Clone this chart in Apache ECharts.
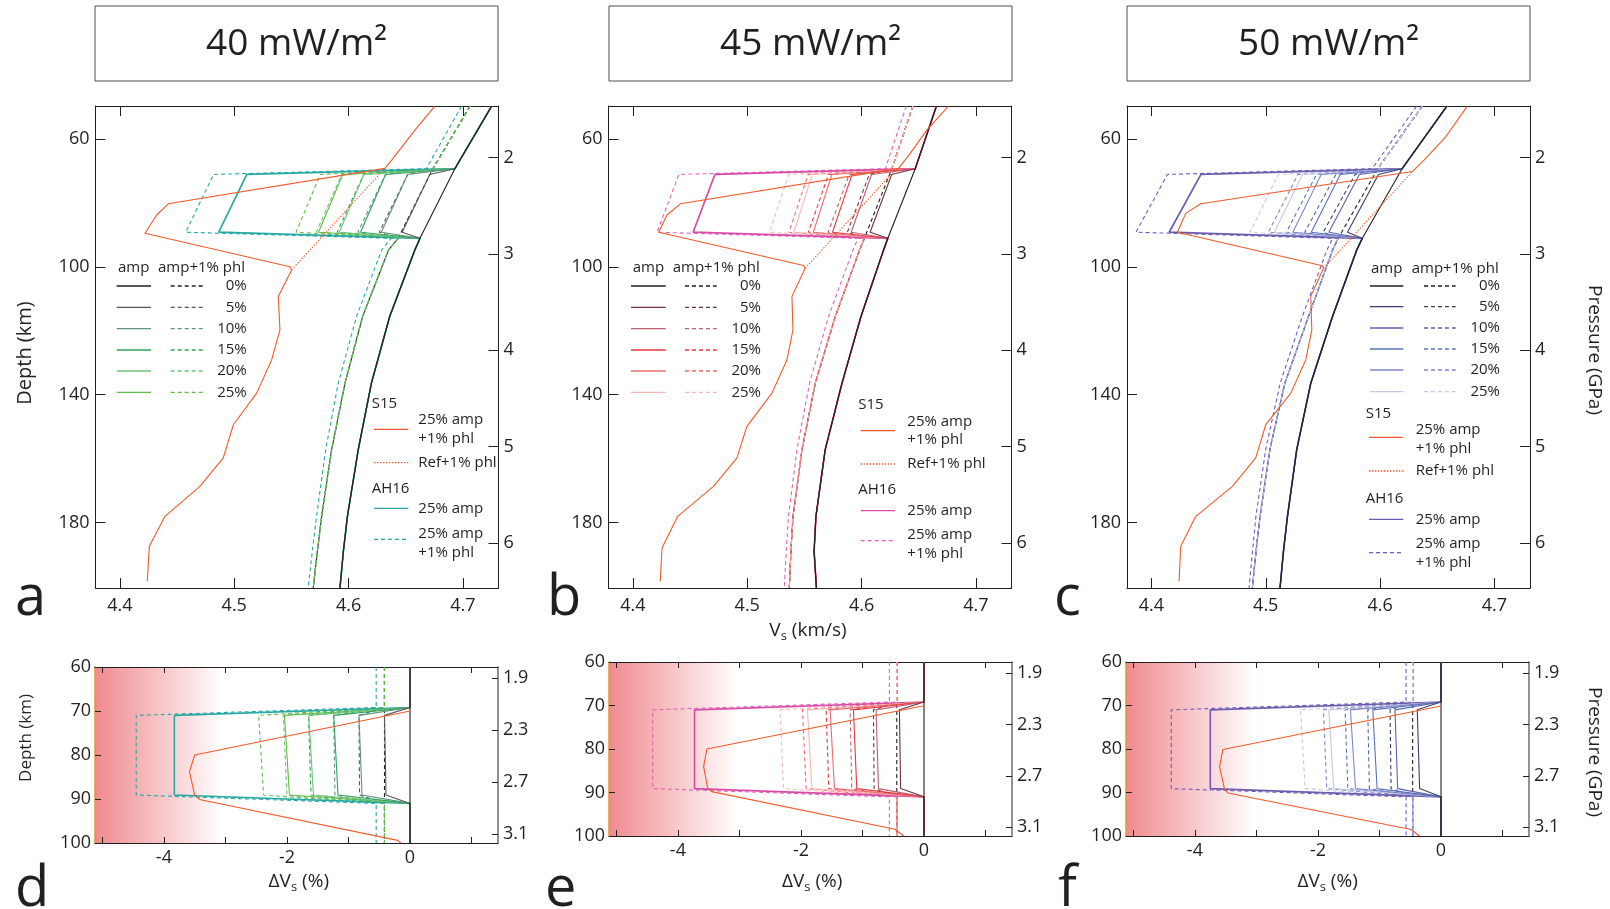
<!DOCTYPE html>
<html><head><meta charset="utf-8">
<script src="https://cdn.jsdelivr.net/npm/echarts@6/dist/echarts.min.js"></script>
<style>html,body{margin:0;padding:0;background:#fff}#c{width:1610px;height:909px}</style>
</head><body><div id="c"></div>
<script>
const FONT = '"Open Sans", "Noto Sans", sans-serif';
const INK = '#231f20';

// ---------- axes: ranges and tick labels ----------
const vsRange = [4.3786, 4.7312];
const vsTicks = [4.4, 4.5, 4.6, 4.7];
const depthRangeTop = [49.56, 200.55];
const depthTicksTop = [60, 100, 140, 180];
const pressRangeTop = [1.4637, 6.467];
const pressTicksTop = [2, 3, 4, 5, 6];
const dvsRange = [-5.12, 1.43];
const dvsTicks = [-5, -4, -3, -2, -1, 0, 1];
const dvsLabels = [-4, -2, 0];
const depthRangeBot = [60, 100];
const depthTicksBot = [60, 70, 80, 90, 100];
const pressRangeBot = [1.813, 3.169];
const pressTicksBot = [1.9, 2.3, 2.7, 3.1];

const titles = ['40 mW/m\u00b2', '45 mW/m\u00b2', '50 mW/m\u00b2'];
const panelLetters = ['a', 'b', 'c', 'd', 'e', 'f'];
const ampLabels = ['0%', '5%', '10%', '15%', '20%', '25%'];

// depths: base-curve sample depths, and layer [join top, layer top, layer bottom, join bottom]
const depthBase = [49.6, 69.2, 91, 94.65, 115.5, 136.4, 157.2, 178.1, 189, 200.5];
const layerDepths = [69.2, 71.0, 89.1, 91.0];

// ---------- panel a (40 mW/m2), Vs km/s ----------
const aBase = [4.7252, 4.6930, 4.6625, 4.6580, 4.6360, 4.6200, 4.6085, 4.5990, 4.5955, 4.5925];
const aBasePhl = [4.7063, 4.6738, 4.6434, 4.6350, 4.6123, 4.5969, 4.5852, 4.5765, 4.5727, 4.5691];
const aAH16Phl = [4.6989, 4.6680, 4.6373, 4.6290, 4.6070, 4.5910, 4.5800, 4.5720, 4.5683, 4.5647];
const aAmpTop = [4.6711, 4.6517, 4.6324, 4.6134, 4.5949];       // 5..25 %
const aAmpBot = [4.6469, 4.6287, 4.6105, 4.5919, 4.5737];
const aAmpPhlTop = [4.6517, 4.6324, 4.6132, 4.5940, 4.5752];
const aAmpPhlBot = [4.6269, 4.6082, 4.5900, 4.5718, 4.5541];
const aAH16Amp = [4.5110, 4.4864];
const aAH16AmpPhl = [4.4819, 4.4575];
const aS15Depth = [49.6, 57.1, 66.5, 69.1, 80.2, 83.7, 89.4, 99.9, 100.9, 109.2, 119.7, 129.1, 139.5, 149.4, 159.8, 168.7, 178.1, 187.5, 198.4];
const aS15Vs = [4.6756, 4.6581, 4.6377, 4.6318, 4.4423, 4.4321, 4.4219, 4.5487, 4.5502, 4.5385, 4.5400, 4.5327, 4.5196, 4.4992, 4.4904, 4.4700, 4.4394, 4.4257, 4.4239];
const aRefDepth = [100.9, 69.1];
const aRefVs = [4.5502, 4.6318];

// ---------- panel b (45 mW/m2) ----------
const bBase = [4.6655, 4.6470, 4.6230, 4.6193, 4.5995, 4.5829, 4.5682, 4.5601, 4.5585, 4.5605];
const bBasePhl = [4.6449, 4.6265, 4.6025, 4.5983, 4.5770, 4.5595, 4.5479, 4.5400, 4.5382, 4.5368];
const bAH16Phl = [4.6391, 4.6208, 4.5970, 4.5925, 4.5711, 4.5545, 4.5435, 4.5361, 4.5341, 4.5324];
const bAmpTop = [4.6264, 4.6088, 4.5917, 4.5741, 4.5570];
const bAmpBot = [4.6075, 4.5909, 4.5746, 4.5578, 4.5407];
const bAmpPhlTop = [4.6068, 4.5892, 4.5711, 4.5533, 4.5363];
const bAmpPhlBot = [4.5876, 4.5708, 4.5535, 4.5365, 4.5195];
const bAH16Amp = [4.4717, 4.4526];
const bAH16AmpPhl = [4.4402, 4.4211];
const bS15Depth = [49.6, 57.1, 64.4, 69.1, 80.2, 83.7, 89.1, 99.5, 100.4, 109.2, 119.7, 129.1, 139.5, 149.9, 159.8, 168.7, 178.1, 188.0, 198.4];
const bS15Vs = [4.6761, 4.6571, 4.6426, 4.6324, 4.4415, 4.4298, 4.4225, 4.5493, 4.5507, 4.5391, 4.5400, 4.5347, 4.5216, 4.4997, 4.4910, 4.4705, 4.4391, 4.4254, 4.4239];
const bRefDepth = [100.4, 71.2, 69.1];
const bRefVs = [4.5507, 4.6251, 4.6324];

// ---------- panel c (50 mW/m2) ----------
const cBase = [4.6585, 4.6193, 4.5845, 4.5796, 4.5584, 4.5394, 4.5271, 4.5190, 4.5155, 4.5125];
const cBasePhl = [4.6370, 4.5980, 4.5634, 4.5585, 4.5374, 4.5167, 4.5036, 4.4950, 4.4915, 4.4883];
const cAH16Phl = [4.6320, 4.5931, 4.5585, 4.5536, 4.5320, 4.5126, 4.4999, 4.4914, 4.4884, 4.4854];
const cAmpTop = [4.5986, 4.5819, 4.5652, 4.5485, 4.5322];
const cAmpBot = [4.5715, 4.5552, 4.5398, 4.5237, 4.5075];
const cAmpPhlTop = [4.5782, 4.5614, 4.5444, 4.5282, 4.5110];
const cAmpPhlBot = [4.5503, 4.5341, 4.5180, 4.5023, 4.4862];
const cAH16Amp = [4.4433, 4.4155];
const cAH16AmpPhl = [4.4140, 4.3864];
const cS15Depth = [49.6, 59.2, 66.5, 70.1, 80.2, 83.2, 89.1, 99.6, 100.4, 109.2, 119.7, 129.1, 139.5, 149.4, 159.8, 168.7, 178.1, 187.5, 198.4];
const cS15Vs = [4.6764, 4.6575, 4.6385, 4.6283, 4.4431, 4.4300, 4.4227, 4.5496, 4.5505, 4.5394, 4.5403, 4.5350, 4.5219, 4.5000, 4.4912, 4.4708, 4.4388, 4.4256, 4.4242];
const cRefDepth = [100.4, 70.1];
const cRefVs = [4.5505, 4.6283];

// ---------- panels d, e, f : dVs (%) ----------
const dAmpTop = [-0.415, -0.83, -1.24, -1.645, -2.04];
const dAmpBot = [-0.39, -0.78, -1.17, -1.57, -1.96];
const dAmpPhlTop = [-0.83, -1.24, -1.65, -2.06, -2.46];
const dAmpPhlBot = [-0.82, -1.22, -1.61, -2.00, -2.38];
const dPhlBase = -0.415, dAH16PhlBase = -0.55;
const dAH16Amp = [-3.83, -3.83];
const dAH16AmpPhl = [-4.45, -4.45];
const dS15Depth = [70.0, 80.0, 83.8, 89.1, 90.1, 99.4, 100];
const dS15dVs = [0, -3.50, -3.585, -3.50, -3.42, -0.20, -0.15];

const eAmpTop = [-0.40, -0.779, -1.147, -1.526, -1.894];
const eAmpBot = [-0.38, -0.74, -1.093, -1.456, -1.824];
const eAmpPhlTop = [-0.822, -1.201, -1.591, -1.975, -2.34];
const eAmpPhlBot = [-0.811, -1.174, -1.548, -1.916, -2.284];
const ePhlBase = -0.443, eAH16PhlBase = -0.563;
const eAH16Amp = [-3.73, -3.73];
const eAH16AmpPhl = [-4.41, -4.41];
const eS15Depth = [70.05, 80.0, 84.0, 89.0, 89.8, 98.45, 100];
const eS15dVs = [0, -3.528, -3.582, -3.517, -3.45, -0.471, -0.33];

const fAmpTop = [-0.386, -0.748, -1.109, -1.472, -1.824];
const fAmpBot = [-0.348, -0.705, -1.039, -1.391, -1.743];
const fAmpPhlTop = [-0.828, -1.191, -1.559, -1.911, -2.284];
const fAmpPhlBot = [-0.812, -1.164, -1.515, -1.857, -2.208];
const fPhlBase = -0.461, fAH16PhlBase = -0.568;
const fAH16Amp = [-3.75, -3.75];
const fAH16AmpPhl = [-4.384, -4.384];
const fS15Depth = [70.1, 80.1, 84.1, 89.3, 90.1, 98.5, 100];
const fS15dVs = [0, -3.545, -3.599, -3.518, -3.464, -0.486, -0.35];

// ---------- colours ----------
const colA = ['#231f20', '#4f5a54', '#5f937a', '#2ea35e', '#72c27a', '#5fbd45'];
const colB = ['#231f20', '#6c3341', '#b8616f', '#e8373f', '#ef6b6e', '#f5b8b5'];
const colC = ['#231f20', '#3a3e6c', '#5a62a8', '#5872bd', '#7f87c9', '#c4c7e5'];
const hlCol = [['#26a9a4', '#26a9a4'], ['#d94aa8', '#e462b8'], ['#6a5cae', '#7459bd']];
const ORANGE = '#f15a2b';
const DASH = [4, 3], DOT = [1.4, 1.6];

// ---------- builders ----------
function layered(base, t, b) {
  const pts = depthBase.map((d, i) => [base[i], d]);
  return pts.filter(p => p[1] <= layerDepths[0])
    .concat([[t, layerDepths[1]], [b, layerDepths[2]]], pts.filter(p => p[1] >= layerDepths[3]));
}
function layeredConst(c, t, b) {
  return [[c, depthRangeBot[0]], [c, layerDepths[0]], [t, layerDepths[1]], [b, layerDepths[2]], [c, layerDepths[3]], [c, depthRangeBot[1]]];
}
function pairs(xs, ys) { return xs.map((x, i) => [x, ys[i]]); }
function ln(gi, data, color, dash, w) {
  return { type: 'line', xAxisIndex: 2 * gi, yAxisIndex: 2 * gi, data, symbol: 'none', silent: true,
    animation: false, clip: true, lineStyle: { color, width: w || 1.1, type: dash || 'solid' } };
}

const series = [];
function topPanel(gi, base, basePhl, ahPhl, aT, aB, pT, pB, hA, hAP, s15d, s15v, refd, refv, cols, hl) {
  series.push(ln(gi, pairs(basePhl, depthBase), cols[0], DASH));
  for (let i = 0; i < 5; i++) series.push(ln(gi, layered(basePhl, pT[i], pB[i]), cols[i + 1], DASH));
  series.push(ln(gi, layered(ahPhl, hAP[0], hAP[1]), hl[1], DASH));
  series.push(ln(gi, layered(base, hA[0], hA[1]), hl[0], null, 1.7));
  for (let i = 4; i >= 0; i--) series.push(ln(gi, layered(base, aT[i], aB[i]), cols[i + 1]));
  series.push(ln(gi, pairs(base, depthBase), cols[0]));
  series.push(ln(gi, pairs(refv, refd), ORANGE, DOT));
  series.push(ln(gi, pairs(s15v, s15d), ORANGE));
}
function botPanel(gi, aT, aB, pT, pB, phlBase, ahPhlBase, hA, hAP, s15d, s15v, cols, hl) {
  series.push(ln(gi, pairs([phlBase, phlBase], depthRangeBot), cols[0], DASH));
  for (let i = 0; i < 5; i++) series.push(ln(gi, layeredConst(phlBase, pT[i], pB[i]), cols[i + 1], DASH));
  series.push(ln(gi, layeredConst(ahPhlBase, hAP[0], hAP[1]), hl[1], DASH));
  series.push(ln(gi, layeredConst(0, hA[0], hA[1]), hl[0], null, 1.6));
  for (let i = 4; i >= 0; i--) series.push(ln(gi, layeredConst(0, aT[i], aB[i]), cols[i + 1]));
  series.push(ln(gi, pairs([0, 0], depthRangeBot), cols[0]));
  series.push(ln(gi, pairs(s15v, s15d), ORANGE));
}
topPanel(0, aBase, aBasePhl, aAH16Phl, aAmpTop, aAmpBot, aAmpPhlTop, aAmpPhlBot, aAH16Amp, aAH16AmpPhl, aS15Depth, aS15Vs, aRefDepth, aRefVs, colA, hlCol[0]);
topPanel(1, bBase, bBasePhl, bAH16Phl, bAmpTop, bAmpBot, bAmpPhlTop, bAmpPhlBot, bAH16Amp, bAH16AmpPhl, bS15Depth, bS15Vs, bRefDepth, bRefVs, colB, hlCol[1]);
topPanel(2, cBase, cBasePhl, cAH16Phl, cAmpTop, cAmpBot, cAmpPhlTop, cAmpPhlBot, cAH16Amp, cAH16AmpPhl, cS15Depth, cS15Vs, cRefDepth, cRefVs, colC, hlCol[2]);
botPanel(3, dAmpTop, dAmpBot, dAmpPhlTop, dAmpPhlBot, dPhlBase, dAH16PhlBase, dAH16Amp, dAH16AmpPhl, dS15Depth, dS15dVs, colA, hlCol[0]);
botPanel(4, eAmpTop, eAmpBot, eAmpPhlTop, eAmpPhlBot, ePhlBase, eAH16PhlBase, eAH16Amp, eAH16AmpPhl, eS15Depth, eS15dVs, colB, hlCol[1]);
botPanel(5, fAmpTop, fAmpBot, fAmpPhlTop, fAmpPhlBot, fPhlBase, fAH16PhlBase, fAH16Amp, fAH16AmpPhl, fS15Depth, fS15dVs, colC, hlCol[2]);

// ---------- layout ----------
const topLefts = [95.5, 608.5, 1127];
const botLefts = [95, 609, 1126];
const grids = [];
topLefts.forEach(l => grids.push({ left: l, top: 106, width: 403, height: 482 }));
grids.push({ left: botLefts[0], top: 667, width: 403, height: 176 });
grids.push({ left: botLefts[1], top: 662, width: 403, height: 174 });
grids.push({ left: botLefts[2], top: 662, width: 403, height: 174 });
const fade = { type: 'linear', x: 0, y: 0, x2: 1, y2: 0,
  colorStops: [{ offset: 0, color: '#f08a8f' }, { offset: 0.32, color: '#ffffff' }] };
grids.forEach((g, i) => { g.show = i >= 3; g.backgroundColor = i >= 3 ? fade : 'transparent'; g.borderWidth = 0; });

const lblStyle = { fontSize: 18, color: INK, fontFamily: FONT };
const xAxes = [], yAxes = [];
function addAxes(gi, isTop) {
  const tl = isTop ? 10 : 6;
  const xr = isTop ? vsRange : dvsRange;
  const xt = isTop ? vsTicks : dvsTicks;
  const xl = isTop ? vsTicks : dvsLabels;
  const xf = isTop ? (v => v.toFixed(1)) : (v => String(Math.round(v)));
  const line = { show: true, onZero: false, lineStyle: { color: INK, width: 1 } };
  xAxes.push({ gridIndex: gi, type: 'value', position: 'bottom', min: xr[0], max: xr[1], axisLine: line,
    axisTick: { show: true, inside: true, length: tl, customValues: xt, lineStyle: { color: INK } },
    axisLabel: Object.assign({ show: true, customValues: xl, margin: isTop ? 9 : 6, formatter: xf }, lblStyle),
    splitLine: { show: false } });
  xAxes.push({ gridIndex: gi, type: 'value', position: 'top', min: xr[0], max: xr[1], axisLine: line,
    axisTick: { show: true, inside: true, length: tl, customValues: xt, lineStyle: { color: INK } },
    axisLabel: { show: false }, splitLine: { show: false } });
  const yr = isTop ? depthRangeTop : depthRangeBot;
  const yt = isTop ? depthTicksTop : depthTicksBot;
  const pr = isTop ? pressRangeTop : pressRangeBot;
  const pt = isTop ? pressTicksTop : pressTicksBot;
  yAxes.push({ gridIndex: gi, type: 'value', position: 'left', inverse: true, min: yr[0], max: yr[1],
    axisLine: isTop ? line : { show: true, onZero: false, lineStyle: { color: '#e8952f', width: 1.5 } },
    axisTick: { show: true, inside: true, length: tl, customValues: yt, lineStyle: { color: INK } },
    axisLabel: Object.assign({ show: true, customValues: yt, margin: isTop ? 6 : 4 }, lblStyle),
    splitLine: { show: false } });
  yAxes.push({ gridIndex: gi, type: 'value', position: 'right', inverse: true, min: pr[0], max: pr[1],
    axisLine: isTop ? line : { show: true, onZero: false, lineStyle: { color: '#6d6e71', width: 1.5 } },
    axisTick: { show: true, inside: true, length: tl, customValues: pt, lineStyle: { color: INK } },
    axisLabel: Object.assign({ show: true, customValues: pt, margin: 5,
      formatter: isTop ? (v => String(v)) : (v => v.toFixed(1)) }, lblStyle),
    splitLine: { show: false } });
}
for (let i = 0; i < 6; i++) addAxes(i, i < 3);

// ---------- graphic text / legends ----------
function txt(x, y, text, size, align, extra) {
  return Object.assign({ type: 'text', x, y, silent: true, z: 50,
    style: { text, font: size + 'px ' + FONT, fill: INK, align: align || 'left', textAlign: align || 'left',
      verticalAlign: 'middle', textVerticalAlign: 'middle' } }, extra || {});
}
function seg(x1, y1, x2, y2, color, dash) {
  return { type: 'line', silent: true, z: 50, shape: { x1, y1, x2, y2 },
    style: { stroke: color, lineWidth: 1.3, lineDash: dash || null } };
}
const G = [];
// title boxes
const titleLefts = [95, 609, 1127];
titleLefts.forEach((l, i) => {
  G.push({ type: 'rect', silent: true, shape: { x: l, y: 6, width: 403, height: 75 },
    style: { fill: '#fff', stroke: '#4d4d4d', lineWidth: 1 } });
  G.push(txt(l + 201.5, 44, titles[i], 37, 'center'));
});
// family legends
const famLay = [
  { ampX: 118, phlX: 158, hdrY: 268, rows: [286, 307.3, 328.7, 350, 371, 392.3], solid: [116.7, 151], dash: [170.7, 203.3], pctR: 246.7 },
  { ampX: 632.7, phlX: 672.7, hdrY: 268, rows: [286, 307.3, 328.7, 350, 371, 392.3], solid: [631, 665.7], dash: [685, 716.7], pctR: 761 },
  { ampX: 1371, phlX: 1411.7, hdrY: 268.3, rows: [286, 306.7, 328, 349, 370, 391.7], solid: [1370, 1403.3], dash: [1424, 1455.7], pctR: 1500 }
];
const refLay = [
  { hx: 371.7, s15Y: 403.3, sx: [374, 408.3], tx: 418.3, oY: 429.3, oT1: 420, oT2: 438.3, dY: 462.7, ahY: 488.3, hY: 508.3, hdY: 539.3, hdT1: 533.3, hdT2: 552.3 },
  { hx: 858.3, s15Y: 405, sx: [860.7, 895], tx: 907.3, oY: 430.7, oT1: 421.7, oT2: 440, dY: 464, ahY: 490, hY: 510.7, hdY: 540.7, hdT1: 534.3, hdT2: 553.3 },
  { hx: 1365.7, s15Y: 413.3, sx: [1369, 1403.3], tx: 1415.7, oY: 437.3, oT1: 429.3, oT2: 448.3, dY: 471, ahY: 498.3, hY: 519.3, hdY: 552.7, hdT1: 543.3, hdT2: 562.3 }
];
const famCols = [colA, colB, colC];
for (let p = 0; p < 3; p++) {
  const L = famLay[p], R = refLay[p], cols = famCols[p];
  G.push(txt(L.ampX, L.hdrY, 'amp', 15));
  G.push(txt(L.phlX, L.hdrY, 'amp+1% phl', 15));
  ampLabels.forEach((lab, i) => {
    G.push(seg(L.solid[0], L.rows[i], L.solid[1], L.rows[i], cols[i]));
    G.push(seg(L.dash[0], L.rows[i], L.dash[1], L.rows[i], cols[i], DASH));
    G.push(txt(L.pctR, L.rows[i], lab, 15, 'right'));
  });
  G.push(txt(R.hx, R.s15Y, 'S15', 15));
  G.push(seg(R.sx[0], R.oY, R.sx[1], R.oY, ORANGE));
  G.push(txt(R.tx, R.oT1, '25% amp', 15));
  G.push(txt(R.tx, R.oT2, '+1% phl', 15));
  G.push(seg(R.sx[0], R.dY, R.sx[1], R.dY, ORANGE, DOT));
  G.push(txt(R.tx, R.dY, 'Ref+1% phl', 15));
  G.push(txt(R.hx, R.ahY, 'AH16', 15));
  G.push(seg(R.sx[0], R.hY, R.sx[1], R.hY, hlCol[p][0]));
  G.push(txt(R.tx, R.hY, '25% amp', 15));
  G.push(seg(R.sx[0], R.hdY, R.sx[1], R.hdY, hlCol[p][1], DASH));
  G.push(txt(R.tx, R.hdT1, '25% amp', 15));
  G.push(txt(R.tx, R.hdT2, '+1% phl', 15));
}
// axis names
G.push(txt(25.7, 353, 'Depth (km)', 20, 'center', { rotation: Math.PI / 2 }));
G.push(txt(25.7, 738, 'Depth (km)', 17, 'center', { rotation: Math.PI / 2 }));
G.push(txt(1594.6, 350, 'Pressure (GPa)', 19, 'center', { rotation: -Math.PI / 2 }));
G.push(txt(1594.6, 752, 'Pressure (GPa)', 19, 'center', { rotation: -Math.PI / 2 }));
function subText(x, y, pre, rest) {
  return { type: 'text', x, y, silent: true, z: 50,
    style: { text: '{n|' + pre + 'V}{s|s}{n| ' + rest + '}', align: 'center', textAlign: 'center',
      verticalAlign: 'middle', textVerticalAlign: 'middle', fill: INK,
      rich: { n: { fontSize: 19, fontFamily: 'Open Sans', lineHeight: 24, fill: INK, color: INK },
              s: { fontSize: 13, fontFamily: 'Open Sans', lineHeight: 13, verticalAlign: 'bottom', fill: INK, color: INK } } } };
}
G.push(subText(808, 630.5, '', '(km/s)'));
G.push(subText(298.8, 882, '\u0394', '(%)'));
G.push(subText(812.2, 882, '\u0394', '(%)'));
G.push(subText(1327.6, 882, '\u0394', '(%)'));
// panel letters
const letterPos = [[15, 627], [547, 627], [1054, 627], [15, 918], [545, 918], [1058, 918]];
panelLetters.forEach((t, i) => {
  G.push({ type: 'text', x: letterPos[i][0], y: letterPos[i][1], silent: true, z: 50,
    style: { text: t, font: '56px ' + FONT, fill: INK, align: 'left', textAlign: 'left',
      verticalAlign: 'bottom', textVerticalAlign: 'bottom' } });
});

const chart = echarts.init(document.getElementById('c'), null, { renderer: 'canvas' });
chart.setOption({
  animation: false,
  backgroundColor: '#ffffff',
  grid: grids,
  xAxis: xAxes,
  yAxis: yAxes,
  series: series,
  graphic: { elements: G }
});
</script></body></html>
